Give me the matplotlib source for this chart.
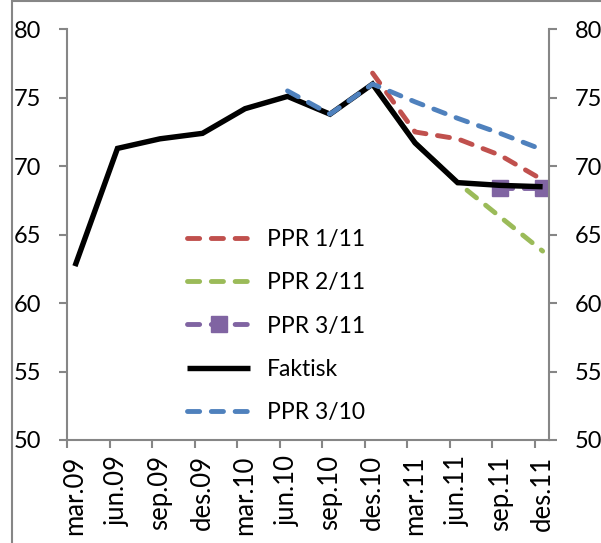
import numpy as np
import matplotlib
matplotlib.use("Agg")
import matplotlib.pyplot as plt
from matplotlib.patches import Rectangle

plt.rcParams['font.family'] = ['Lato', 'DejaVu Sans']

# kvartaler
labels = ["mar.09", "jun.09", "sep.09", "des.09", "mar.10", "jun.10",
          "sep.10", "des.10", "mar.11", "jun.11", "sep.11", "des.11"]

nan = np.nan
faktisk = [62.7, 71.3, 72.0, 72.4, 74.2, 75.1, 73.8, 76.0, 71.7, 68.8, 68.6, 68.5]
ppr_1_11 = [nan] * 7 + [76.8, 72.5, 72.0, 70.8, 69.0]
ppr_2_11 = [nan] * 7 + [76.0, 71.7, 68.8, 66.3, 63.8]
ppr_3_11 = [nan] * 10 + [68.4, 68.4]
ppr_3_10 = [nan] * 5 + [75.5, 73.8, 76.0, 74.7, 73.5, 72.4, 71.2]

series = [
    ("PPR 1/11", ppr_1_11, "#C0504D", True, None),
    ("PPR 2/11", ppr_2_11, "#9BBB59", True, None),
    ("PPR 3/11", ppr_3_11, "#8064A2", True, "s"),
    ("Faktisk", faktisk, "black", False, None),
    ("PPR 3/10", ppr_3_10, "#4F81BD", True, None),
]

fig = plt.figure(figsize=(6.01, 5.43), dpi=100)
ax = fig.add_axes([67.3 / 601, 1 - 440 / 543, (549 - 67.3) / 601, (440 - 29.3) / 543])

x = np.arange(len(labels))
for name, vals, col, dashed, mk in series:
    if dashed:
        ax.plot(x, vals, color=col, lw=3.5, dashes=(2.5, 2.4),
                dash_capstyle="round", marker=mk, ms=11, label=name)
    else:
        ax.plot(x, vals, color=col, lw=3.9, solid_capstyle="butt",
                solid_joinstyle="miter", label=name)

ax.set_ylim(50, 80)
ax.set_xlim(-0.18, 11.15)
ax.set_yticks(np.arange(50, 81, 5))
ax.set_xticks(x)
ax.set_xticklabels(labels, rotation=90)
ax.set_xticks(x - 0.18, minor=True)

grey = "#868686"
for s in ["left", "right", "bottom"]:
    ax.spines[s].set_color(grey)
    ax.spines[s].set_linewidth(1.5)
ax.spines["top"].set_visible(False)

ax.tick_params(axis="y", which="major", direction="out", length=5.5, width=1.5,
               color=grey, labelsize=17, pad=13, left=True, right=True,
               labelleft=True, labelright=True)
ax.tick_params(axis="x", which="major", length=0, labelsize=18.5, pad=11)
ax.tick_params(axis="x", which="minor", direction="out", length=5.5, width=1.5,
               color=grey)

leg = ax.legend(loc="center left", bbox_to_anchor=(187 / 601, 1 - 326 / 543),
                bbox_transform=fig.transFigure, frameon=False, fontsize=16.5,
                handlelength=2.75, handletextpad=0.73, borderpad=0,
                borderaxespad=0, labelspacing=0.98, numpoints=1)

# ramme rundt diagrammet
fig.patches.append(Rectangle((11.5 / 601, -0.05), 1.2, 1.05 - 1 / 543,
                             transform=fig.transFigure, fill=False,
                             edgecolor=grey, lw=1.5))

fig.savefig("out.png", dpi=100)
